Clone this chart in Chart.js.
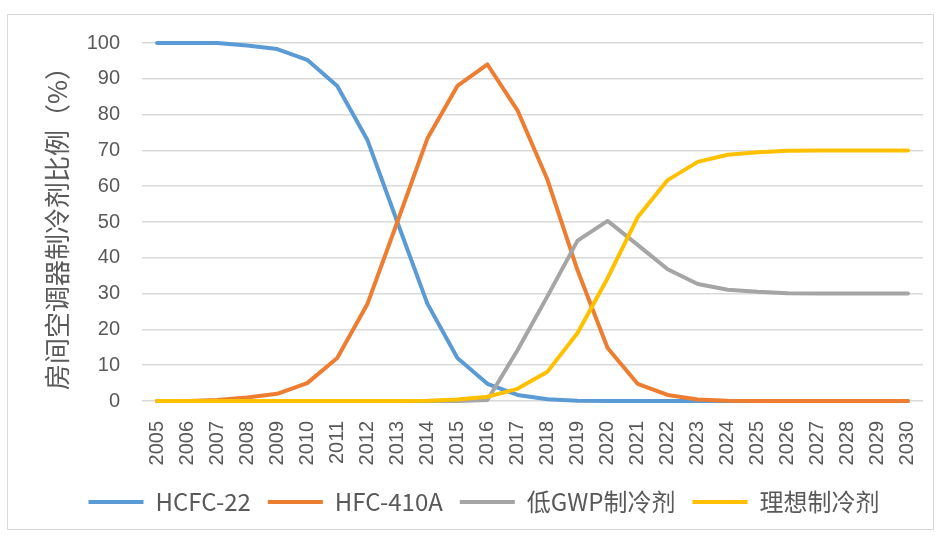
<!DOCTYPE html>
<html>
<head>
<meta charset="utf-8">
<script src="https://cdn.jsdelivr.net/npm/chart.js@4/dist/chart.umd.min.js"></script>
<style>
  html, body { margin: 0; padding: 0; background: #fff; }
  #wrap { position: relative; width: 940px; height: 538px; }
  #frame { position: absolute; left: 7px; top: 14px; width: 927px; height: 516px; border: 1px solid #d9d9d9; box-sizing: border-box; pointer-events: none; }
  canvas { position: absolute; left: 0; top: 0; }
</style>
</head>
<body>
<div id="wrap">
  <canvas id="chart" width="940" height="538"></canvas>
  <div id="frame"></div>
</div>
<script>
// Years on the horizontal axis
const years = ['2005','2006','2007','2008','2009','2010','2011','2012','2013','2014',
               '2015','2016','2017','2018','2019','2020','2021','2022','2023','2024',
               '2025','2026','2027','2028','2029','2030'];

// Share of each refrigerant in room air conditioners (%)
const hcfc22 = [100, 100, 100, 99.3, 98.3, 95.3, 88, 73, 50, 27.2,
                12, 4.8, 1.7, 0.5, 0.1, 0, 0, 0, 0, 0,
                0, 0, 0, 0, 0, 0];
const hfc410a = [0, 0, 0.3, 1, 2, 5, 12, 27, 50, 73.3,
                 88, 94, 81.2, 61.8, 36.5, 14.8, 4.8, 1.7, 0.4, 0.1,
                 0, 0, 0, 0, 0, 0];
const lowGwp = [0, 0, 0, 0, 0, 0, 0, 0, 0, 0,
                0, 0.3, 14.2, 29.3, 44.8, 50.3, 43.6, 36.8, 32.7, 31.1,
                30.5, 30.1, 30, 30, 30, 30];
const ideal = [0, 0, 0, 0, 0, 0, 0, 0, 0, 0.1,
               0.4, 1.2, 3.4, 8.2, 19, 34.3, 51.3, 61.7, 66.8, 68.8,
               69.5, 69.9, 70, 70, 70, 70];

const seriesNames = ['HCFC-22', 'HFC-410A', '低GWP制冷剂', '理想制冷剂'];
const seriesColors = ['#5b9bd5', '#ed7d31', '#a5a5a5', '#ffc000'];
const yTicks = { min: 0, max: 100, step: 10 };
const yTitle = '房间空调器制冷剂比例（%）';

const textColor = '#595959';
const tickFont = '"Liberation Sans", Arial, sans-serif';
const cjkFont = '"Noto Sans CJK SC", sans-serif';

const seriesData = [hcfc22, hfc410a, lowGwp, ideal];
const datasets = seriesData.map((vals, i) => ({
  label: seriesNames[i],
  data: vals,
  borderColor: seriesColors[i],
  backgroundColor: seriesColors[i],
  borderWidth: 4,
  borderCapStyle: 'round',
  borderJoinStyle: 'round',
  pointRadius: 0,
  pointHoverRadius: 0,
  tension: 0,
  clip: 8,
  // later series are painted over earlier ones
  order: seriesData.length - i
}));

new Chart(document.getElementById('chart'), {
  type: 'line',
  data: { labels: years, datasets },
  options: {
    responsive: false,
    animation: false,
    devicePixelRatio: 1,
    layout: { padding: { top: 43, left: 30, right: 2, bottom: 15 } },
    plugins: {
      tooltip: { enabled: false },
      legend: {
        position: 'bottom',
        maxHeight: 50,
        labels: {
          usePointStyle: true,
          pointStyle: 'line',
          pointStyleWidth: 55,
          boxHeight: 20,
          padding: 17,
          color: textColor,
          font: { family: cjkFont, size: 24 },
          sort: (a, b) => a.datasetIndex - b.datasetIndex
        }
      }
    },
    scales: {
      x: {
        type: 'category',
        offset: true,
        grid: { display: false, drawTicks: false },
        border: { display: false },
        ticks: {
          autoSkip: false,
          minRotation: 90,
          maxRotation: 90,
          padding: 20,
          color: textColor,
          font: { family: tickFont, size: 20, lineHeight: 0.6 }
        },
        afterFit: (scale) => { scale.height = 72; }
      },
      y: {
        min: yTicks.min,
        max: yTicks.max,
        grid: { color: '#d9d9d9', lineWidth: 1.5, drawTicks: false },
        border: { display: false },
        ticks: {
          stepSize: yTicks.step,
          padding: 22,
          color: textColor,
          font: { family: tickFont, size: 20 }
        },
        title: {
          display: true,
          text: yTitle,
          color: textColor,
          padding: { top: 12, bottom: 0 },
          font: { family: cjkFont, size: 26, weight: 'normal' }
        },
        afterFit: (scale) => { scale.width = 112; }
      }
    }
  }
});
</script>
</body>
</html>
